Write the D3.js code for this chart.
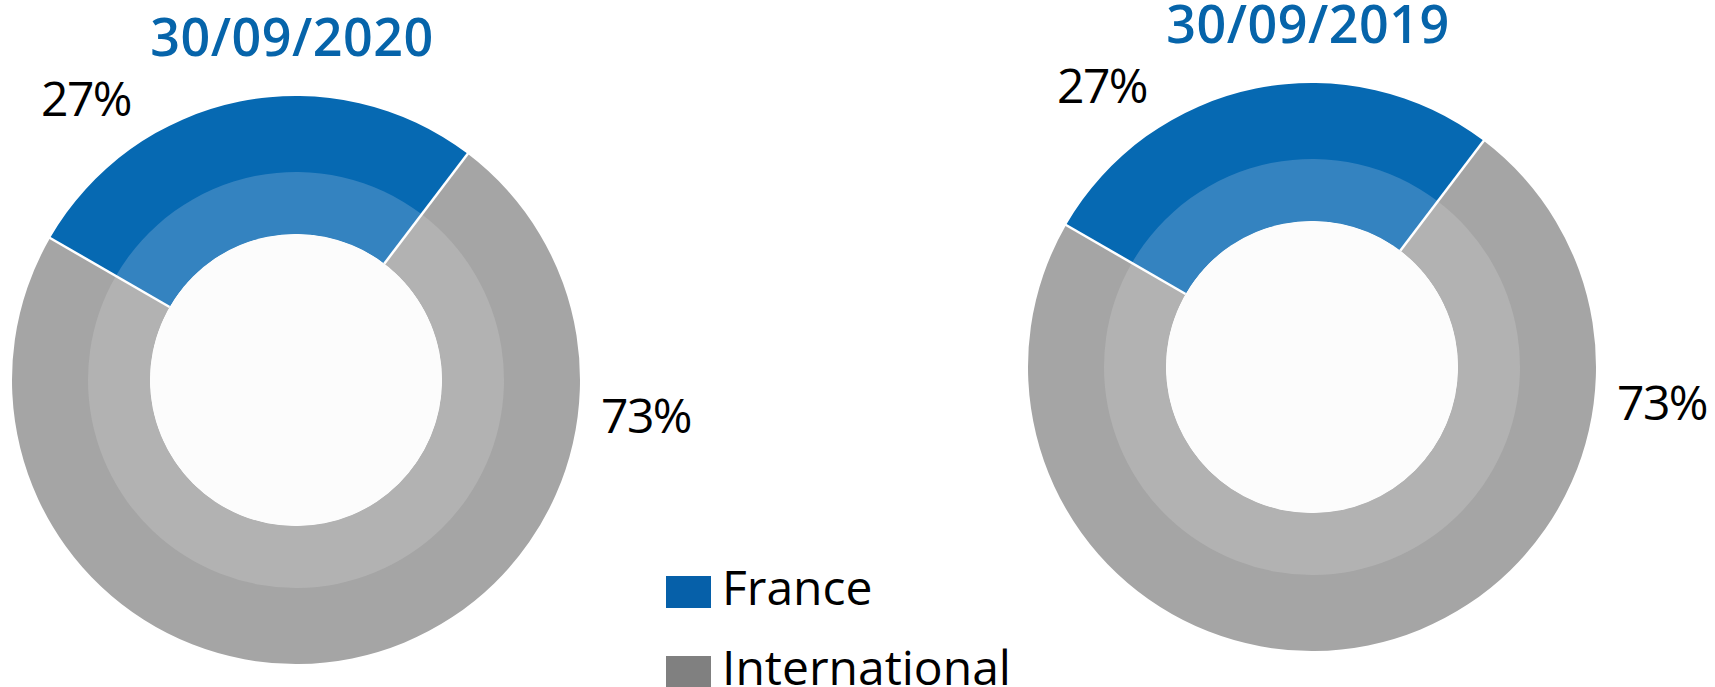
<!DOCTYPE html>
<html>
<head>
<meta charset="utf-8">
<script src="https://cdn.jsdelivr.net/npm/d3@7"></script>
<style>
  html, body { margin: 0; padding: 0; background: #ffffff; }
  svg { display: block; }
  text { font-family: "Open Sans", "Noto Sans", sans-serif; }
</style>
</head>
<body>
<div id="chart"></div>
<script>
// Chart data
const categories = ["France", "International"]
const dates = ["30/09/2020", "30/09/2019"]
const shares2020 = [27, 73]
const shares2019 = [27, 73]
const seriesValues = [shares2020, shares2019]

function drawChart(container) {
    // Define chart parameters
    const WIDTH = 1715
    const HEIGHT = 687
    const R_OUT = 284
    const R_MID = 208
    const R_IN = 146
    const CENTERS = [{X:296, Y:380}, {X:1312, Y:367}]
    const START = -60 * Math.PI / 180

    const outerColour = d3.scaleOrdinal().domain(categories).range(["#0669b2", "#a5a5a5"])
    const innerColour = d3.scaleOrdinal().domain(categories).range(["#3483c0", "#b2b2b2"])
    const legendColour = d3.scaleOrdinal().domain(categories).range(["#0660a9", "#808080"])

    let svg = d3.select(container).append("svg")
        .attr("width", WIDTH)
        .attr("height", HEIGHT)

    let pie = d3.pie()
        .sort(null)
        .value(d=>d.value)
        .startAngle(START)
        .endAngle(START + 2 * Math.PI)

    let outerArc = d3.arc().innerRadius(R_IN).outerRadius(R_OUT)
    let innerArc = d3.arc().innerRadius(R_IN).outerRadius(R_MID)

    // Where each label sits, relative to the donut centre
    const labelOffset = {France: {DX:-210, DY:-264}, International: {DX:350, DY:53}}

    dates.forEach(function(date, i) {
        let values = categories.map((c, j)=>({key:c, value:seriesValues[i][j]}))
        let arcs = pie(values)

        let g = svg.append("g")
            .attr("transform", "translate(" + CENTERS[i].X + "," + CENTERS[i].Y + ")")

        // Outer darker ring
        g.selectAll(".outer")
            .data(arcs)
            .enter()
            .append("path")
            .attr("class", "outer")
            .attr("d", outerArc)
            .style("fill", d=>outerColour(d.data.key))

        // Lighter inner band
        g.selectAll(".inner")
            .data(arcs)
            .enter()
            .append("path")
            .attr("class", "inner")
            .attr("d", innerArc)
            .style("fill", d=>innerColour(d.data.key))

        // Hole
        g.append("circle")
            .attr("r", R_IN)
            .style("fill", "#fcfcfc")

        // White separators between slices
        g.selectAll(".sep")
            .data(arcs)
            .enter()
            .append("line")
            .attr("class", "sep")
            .attr("x1", d=>R_IN * Math.sin(d.startAngle))
            .attr("y1", d=>-R_IN * Math.cos(d.startAngle))
            .attr("x2", d=>(R_OUT + 1) * Math.sin(d.startAngle))
            .attr("y2", d=>-(R_OUT + 1) * Math.cos(d.startAngle))
            .style("stroke", "#ffffff")
            .style("stroke-width", 2.5)

        // Title
        g.append("text")
            .attr("x", -4)
            .attr("y", -324)
            .attr("text-anchor", "middle")
            .style("font-size", "52px")
            .style("font-weight", 600)
            .style("letter-spacing", "0.5px")
            .style("fill", "#0664aa")
            .text(date)

        // Percentage labels
        g.selectAll(".pct")
            .data(arcs)
            .enter()
            .append("text")
            .attr("class", "pct")
            .attr("x", d=>labelOffset[d.data.key].DX)
            .attr("y", d=>labelOffset[d.data.key].DY)
            .attr("text-anchor", "middle")
            .style("font-size", "48px")
            .style("letter-spacing", "-1.5px")
            .style("fill", "#000000")
            .text(d=>d.data.value + "%")
    })

    // Legend
    let legend = svg.append("g")
        .attr("transform", "translate(666,576)")

    let item = legend.selectAll(".item")
        .data(categories)
        .enter()
        .append("g")
        .attr("class", "item")
        .attr("transform", (d, i)=>"translate(0," + i * 80 + ")")

    item.append("rect")
        .attr("width", 45)
        .attr("height", 32)
        .style("fill", d=>legendColour(d))

    item.append("text")
        .attr("x", 56)
        .attr("y", 29)
        .style("font-size", "48px")
        .style("fill", "#000000")
        .text(d=>d)
}

drawChart("#chart")
</script>
</body>
</html>
